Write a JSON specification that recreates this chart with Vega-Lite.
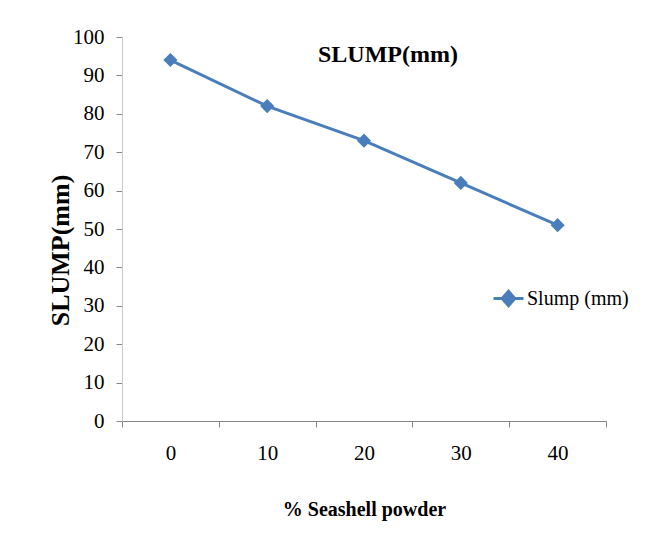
{
  "$schema": "https://vega.github.io/schema/vega-lite/v6.json",
  "width": 484,
  "height": 384,
  "autosize": {"type": "none"},
  "padding": {"left": 122, "top": 37, "right": 50, "bottom": 120},
  "background": "white",
  "layer": [
    {
      "data": {"values": [
        {"pct": "0", "slump": 94, "series": "Slump (mm)"},
        {"pct": "10", "slump": 82, "series": "Slump (mm)"},
        {"pct": "20", "slump": 73, "series": "Slump (mm)"},
        {"pct": "30", "slump": 62, "series": "Slump (mm)"},
        {"pct": "40", "slump": 51, "series": "Slump (mm)"}
      ]},
      "mark": {"type": "line", "strokeWidth": 3, "point": {"shape": "diamond", "size": 200, "filled": true}},
      "encoding": {
        "x": {"field": "pct", "type": "ordinal", "sort": null,
          "scale": {"type": "band", "paddingInner": 0, "paddingOuter": 0},
          "axis": {"tickBand": "extent", "labelAngle": 0, "domainColor": "#868686", "tickColor": "#868686", "tickSize": 6, "labelFont": "Liberation Serif", "labelFontSize": 21, "labelColor": "black", "labelPadding": 15, "title": "% Seashell powder", "titleFont": "Liberation Serif", "titleFontSize": 20, "titleFontWeight": "bold", "titleColor": "black", "titlePadding": 36, "grid": false}},
        "y": {"field": "slump", "type": "quantitative",
          "scale": {"domain": [0, 100], "nice": false, "zero": true},
          "axis": {"values": [0, 10, 20, 30, 40, 50, 60, 70, 80, 90, 100], "domainColor": "#c8c8c8", "tickColor": "#868686", "tickSize": 6, "labelFont": "Liberation Serif", "labelFontSize": 21, "labelColor": "black", "labelPadding": 12, "title": "SLUMP(mm)", "titleFont": "Liberation Serif", "titleFontSize": 26, "titleFontWeight": "bold", "titleColor": "black", "titlePadding": -1, "titleY": 213, "grid": false}},
        "color": {"field": "series", "type": "nominal", "scale": {"range": ["#4a7ebb"]},
          "legend": {"title": null, "orient": "none", "legendX": 370, "legendY": 245, "labelFont": "Liberation Serif", "labelFontSize": 20, "labelColor": "black", "labelOffset": 2,
            "symbolType": "M-1,0H1M-0.42,0L0,-0.48L0.42,0L0,0.48Z", "symbolSize": 900, "symbolStrokeWidth": 3,
            "encode": {"symbols": {"update": {"fill": {"value": "#4a7ebb"}, "stroke": {"value": "#4a7ebb"}, "shape": {"value": "M-1,0H1M-0.42,0L0,-0.48L0.42,0L0,0.48Z"}, "size": {"value": 900}, "strokeWidth": {"value": 3}}}}}}
      }
    },
    {
      "data": {"values": [{"label": "SLUMP(mm)"}]},
      "mark": {"type": "text", "font": "Liberation Serif", "fontSize": 24, "fontWeight": "bold", "color": "black", "align": "center", "baseline": "alphabetic", "dx": 24},
      "encoding": {
        "x": {"datum": "20", "type": "ordinal",
          "axis": {"tickBand": "extent", "labelAngle": 0, "domainColor": "#868686", "tickColor": "#868686", "tickSize": 6, "labelFont": "Liberation Serif", "labelFontSize": 21, "labelColor": "black", "labelPadding": 15, "title": "% Seashell powder", "titleFont": "Liberation Serif", "titleFontSize": 20, "titleFontWeight": "bold", "titleColor": "black", "titlePadding": 36, "grid": false}},
        "y": {"datum": 93.5, "type": "quantitative",
          "axis": {"values": [0, 10, 20, 30, 40, 50, 60, 70, 80, 90, 100], "domainColor": "#c8c8c8", "tickColor": "#868686", "tickSize": 6, "labelFont": "Liberation Serif", "labelFontSize": 21, "labelColor": "black", "labelPadding": 12, "title": "SLUMP(mm)", "titleFont": "Liberation Serif", "titleFontSize": 26, "titleFontWeight": "bold", "titleColor": "black", "titlePadding": -1, "titleY": 213, "grid": false}},
        "text": {"field": "label"}
      }
    }
  ],
  "config": {"view": {"stroke": null}}
}
